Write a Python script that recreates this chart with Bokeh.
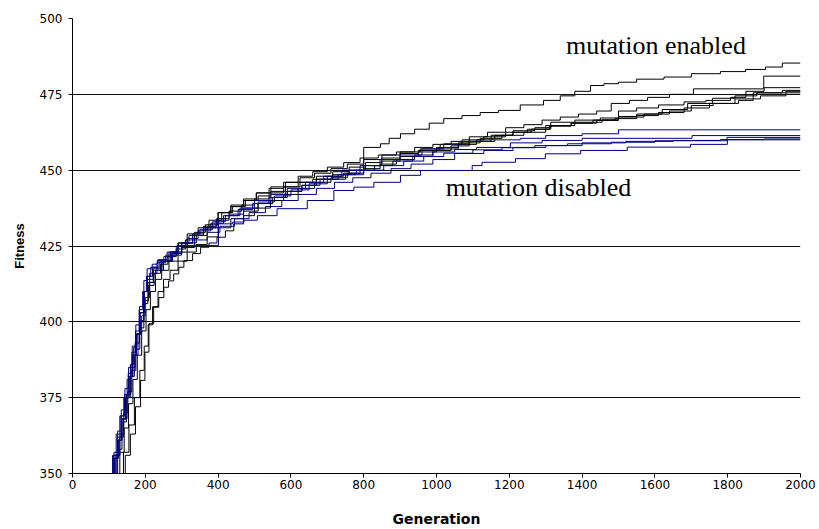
from bokeh.plotting import figure
from bokeh.models import Range1d, FixedTicker, Label
from bokeh.embed import file_html
from bokeh.resources import INLINE

X_TICKS = [0, 200, 400, 600, 800, 1000, 1200, 1400, 1600, 1800, 2000]
Y_TICKS = [350, 375, 400, 425, 450, 475, 500]

# ---- mutation enabled runs (black) ----
gen_b1 = [105,115,125,135,145,155,165,175,185,195,205,220,240,265,290,315,345,375,410,440,
          475,510,545,585,620,660,700,745,790,800,846,870,901,940,980,1020,1070,1120,1170,1230,
          1294,1340,1380,1423,1460,1500,1550,1625,1700,1780,1849,1904,1950,2000]
fit_b1 = [350,355,361,368,375,382,389,396,403,410,415,418,420,423,426,429,431,433.5,436,438,
          440,441.5,443,444.5,446,447,448,449,450,457.5,458.7,460.5,462,463.5,465.5,467,468,469,469.7,471.5,
          473,474.5,476,477.9,478.5,479,480,480.7,481.8,482.5,483.2,484,485.3,485.3]

gen_b2 = [118,130,142,154,166,178,190,202,214,228,245,265,290,315,340,370,400,435,470,505,
          540,580,620,660,700,745,790,840,890,940,990,1040,1090,1140,1190,1240,1290,1340,1390,1440,
          1480,1530,1580,1640,1706,1899,2000]
fit_b2 = [350,357,365,373,381,389,397,404,410,414,417,420,423,426,428.5,431,436,438,440,442.5,
          444,446,448,449.5,451,452.5,454,455,456,457.5,458.5,459.5,461,462.5,464,465,466.5,467.5,468.5,469.5,
          472,473,474,475,476.8,481,481]

gen_b3 = [132,145,159,173,187,199,210,223,237,251,264,278,292,306,330,352,375,397,420,443,
          470,500,544,580,620,665,710,755,800,845,890,940,990,1040,1090,1150,1210,1270,1314,1380,
          1455,1500,1550,1610,1680,1740,1808,1850,1900,2000]
fit_b3 = [350,356,363,372,380.7,390,399.4,404.8,408,411.4,413.5,415.8,418,420.2,422.5,424.6,426,427.9,430,432.3,
          435,437.5,440,442,444,446,447.5,449,450.5,452,453.5,455,456.5,458,459.5,461.5,463,464,464.7,465.8,
          466.6,469.5,470.5,471.5,472.5,473,474,476,477.2,477.2]

gen_b4 = [125,140,155,170,185,197,208,220,235,250,268,290,315,340,370,400,435,470,510,550,
          590,630,670,715,760,805,850,900,950,1000,1060,1110,1160,1210,1260,1314,1380,1450,1500,1550,
          1620,1690,1758,1820,1880,1950,2000]
fit_b4 = [350,357,366,375,384,392,399,405,410,414,417,420,423,425.5,428,431,434,436.5,439,441,
          443,445,447,448.5,450,451.5,453,454.5,456,457,458.5,460,461.5,462.5,463.5,465.8,466.5,467.2,467.7,468.5,
          470,472,473.7,474.5,475.5,476.3,476.3]

gen_b5 = [108,119,130,141,152,163,174,185,196,207,222,245,270,300,330,360,395,430,465,500,
          540,580,625,670,715,760,805,850,900,950,1000,1060,1120,1180,1240,1300,1370,1440,1500,1570,
          1640,1700,1760,1830,1870,2000]
fit_b5 = [350,356,363,370,377,384,391,398,406,413,417,420,422.5,426,429,431.5,434,436.5,438.5,440.5,
          442.5,444.5,446,448,449.5,451,452.5,454,455.5,456.5,457.5,459,460.5,461.5,462.5,464.7,465.5,466.4,467.5,468.5,
          469.5,471.3,472,473,475.5,475.5]

gen_b6 = [112,124,136,148,160,172,184,196,209,224,242,262,285,310,335,365,400,435,470,505,
          545,585,625,665,710,755,800,850,900,955,1010,1070,1130,1190,1250,1310,1370,1430,1490,1550,
          1610,1680,1750,1820,1890,1960,2000]
fit_b6 = [350,358,367,376,385,393,400,407,412,416,419,421.5,424,427,429.5,432,436,438.5,440.5,442.5,
          444.5,446,447.5,449,450.5,452,453.5,455,456,457,458.5,460,461,462.5,463.5,464.5,465.5,466.5,467,468,
          469,470.5,472,473.5,474.5,476,476]

# ---- mutation disabled runs (blue) ----
gen_l = [100,110,120,130,141,150,159,168,177,187,196,205,219,233,251,269,290,401,440,471,
         508,562,645,718,773,828,901,956,1098,1125,1217,1299,1396,1524,1698,1799,2000]
fit_l = [350,356,363,369,375.2,381,386,391.6,396,400.4,413.6,417.5,419,420.2,421.5,423,425.2,432.3,432.9,433.5,
         435,437.3,440,443.3,444.4,446,448.3,449.9,451.5,452.6,453.8,455.4,456.5,457.6,458.5,460,460]

gen_t1 = [103,113,123,133,143,153,163,173,183,193,203,215,235,260,290,320,350,385,420,460,
          500,545,590,640,690,740,790,845,900,960,1020,1090,1160,1230,1300,1400,1500,2000]
fit_t1 = [350,356,362,369,376,383,390,397,404,410,415,418,420.5,423,426,428.5,430.5,433,435,437.5,
          440,442,444,446,448,450,451.5,453.5,455,457,458.7,459.5,460,460.5,461.4,462,463.3,463.3]

gen_t2 = [106,116,126,136,146,156,166,176,186,198,212,232,256,285,315,345,380,415,455,495,
          540,585,630,680,730,780,830,880,935,990,1050,1110,1203,1290,1400,1702,2000]
fit_t2 = [350,355,361,368,375,382,389,396,403,410,416,419.5,422,425,427.5,430,432.5,435,437,439,
          441,443,445,447,448.5,450,451.5,453,454.5,456,456.8,457.5,459,459.8,460.5,461.4,461.4]

gen_t3 = [110,120,130,140,150,160,170,180,190,200,212,228,250,275,300,330,360,395,430,470,
          510,555,600,650,700,750,800,855,910,965,1020,1100,1180,1270,1360,1480,1600,1798,2000]
fit_t3 = [350,356,362,368,375,382,389,396,402,408,413,417,420,423,426,428.5,431,433.5,435.5,437.5,
          439.5,441.5,443.5,445.5,447,448.5,450,451.5,453,454.5,455.6,456.7,457.4,458.1,458.7,459.2,459.7,460.8,460.8]

gen_t4 = [104,114,124,134,144,154,164,174,184,194,206,222,246,272,300,335,370,405,445,485,
          530,575,620,670,720,770,820,875,930,990,1050,1130,1210,1300,1400,1520,1650,1780,1900,2000]
fit_t4 = [350,357,364,371,378,385,392,399,405,410,414,417.5,420,422,424.5,427,429.5,431.5,434,436,
          438,440,442,444,446,447.5,449,450.5,452,453.5,455.5,456.5,457.5,458.1,459,459.5,459.8,460.1,460.3,460.3]

black_runs = [(gen_b1, fit_b1), (gen_b2, fit_b2), (gen_b3, fit_b3),
              (gen_b4, fit_b4), (gen_b5, fit_b5), (gen_b6, fit_b6)]
blue_runs = [(gen_l, fit_l), (gen_t1, fit_t1), (gen_t2, fit_t2),
             (gen_t3, fit_t3), (gen_t4, fit_t4)]

p = figure(width=819, height=529, output_backend="svg", toolbar_location=None,
           x_range=Range1d(0, 2000), y_range=Range1d(350, 500),
           min_border_left=72, min_border_right=19, min_border_top=18, min_border_bottom=56)
p.outline_line_color = None
p.background_fill_color = "white"
p.border_fill_color = "white"

p.xgrid.visible = False
p.ygrid.grid_line_color = "#111111"
p.ygrid.grid_line_width = 1

p.xaxis.ticker = FixedTicker(ticks=X_TICKS)
p.yaxis.ticker = FixedTicker(ticks=Y_TICKS)
for ax in (p.xaxis[0], p.yaxis[0]):
    ax.axis_line_color = "black"
    ax.major_tick_line_color = "black"
    ax.minor_tick_line_color = None
    ax.major_tick_in = 0
    ax.major_tick_out = 4
    ax.major_label_text_font = "DejaVu Sans"
    ax.major_label_text_font_size = "12px"
    ax.major_label_text_color = "black"
    ax.axis_label_text_font_style = "bold"
    ax.axis_label_text_color = "black"

p.xaxis.major_label_standoff = 2
p.yaxis.major_label_standoff = 6
p.xaxis.axis_label = "Generation"
p.xaxis.axis_label_text_font = "DejaVu Sans"
p.xaxis.axis_label_text_font_size = "14px"
p.xaxis.axis_label_standoff = 19
p.yaxis.axis_label = "Fitness"
p.yaxis.axis_label_text_font = "Liberation Sans"
p.yaxis.axis_label_text_font_size = "13px"
p.yaxis.axis_label_standoff = 10

for g, f in black_runs:
    assert len(g) == len(f)
    p.step(x=g, y=f, mode="after", line_color="#000000", line_width=1)
for g, f in blue_runs:
    assert len(g) == len(f)
    p.step(x=g, y=f, mode="after", line_color="#000080", line_width=1)

p.add_layout(Label(x=1603, y=491.0, text="mutation enabled", text_font="Liberation Serif",
                   text_font_size="26px", text_align="center", text_baseline="middle",
                   text_color="black"))
p.add_layout(Label(x=1280, y=444.3, text="mutation disabled", text_font="Liberation Serif",
                   text_font_size="26px", text_align="center", text_baseline="middle",
                   text_color="black"))

open("out.html", "w").write(file_html(p, INLINE))
